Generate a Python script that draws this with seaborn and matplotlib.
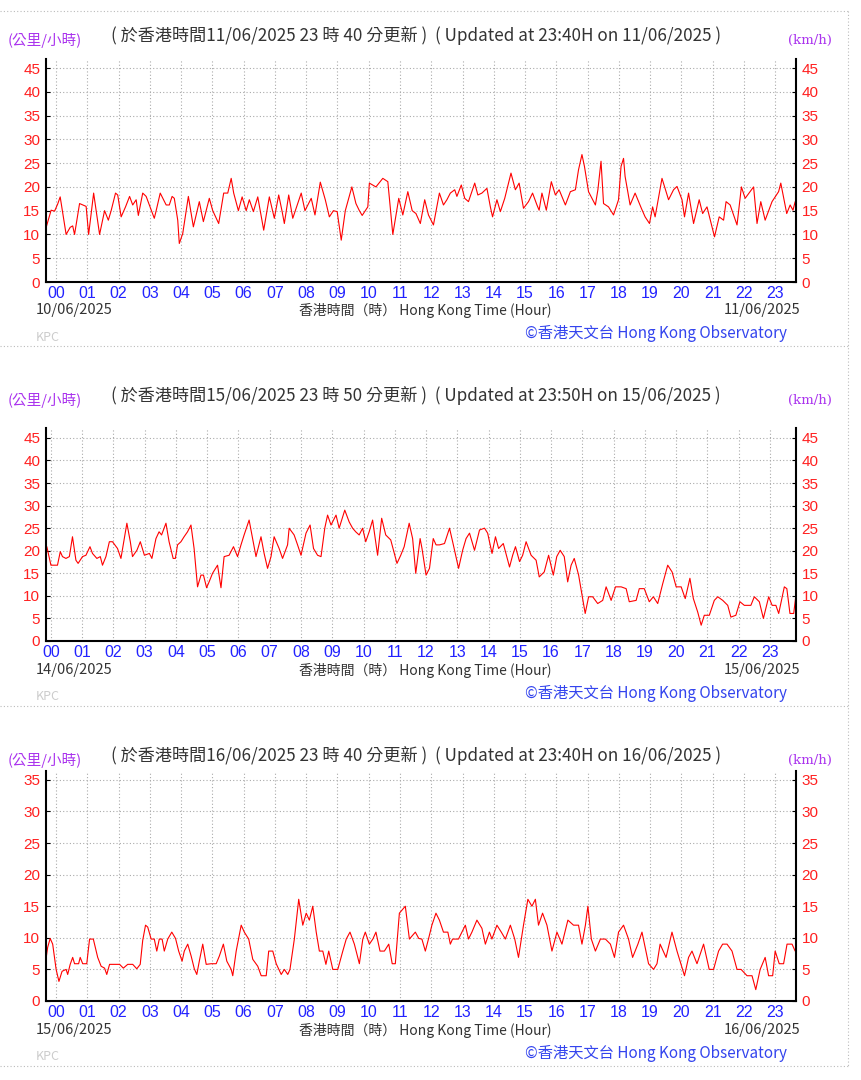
import matplotlib
matplotlib.use("Agg")
import matplotlib.pyplot as plt
from matplotlib.lines import Line2D
from matplotlib.ticker import MultipleLocator
import seaborn as sns

# ---- data (hour of day, wind speed km/h) ----
p1_hours = [-0.34, -0.16, -0.05, 0.05, 0.13, 0.32, 0.45, 0.53, 0.59, 0.75, 0.96, 1.04, 1.2, 1.39,
            1.55, 1.67, 1.76, 1.9, 1.97, 2.08, 2.22, 2.35, 2.45, 2.56, 2.63, 2.77, 2.88, 3.14, 3.2,
            3.33, 3.52, 3.62, 3.71, 3.78, 3.89, 3.94, 4.05, 4.23, 4.39, 4.58, 4.71, 4.9, 5.01, 5.2,
            5.36, 5.49, 5.6, 5.68, 5.83, 5.95, 6.08, 6.18, 6.31, 6.45, 6.64, 6.82, 6.98, 7.12, 7.23,
            7.3, 7.44, 7.57, 7.84, 7.96, 8.16, 8.28, 8.45, 8.61, 8.74, 8.87, 8.99, 9.12, 9.25, 9.46,
            9.59, 9.7, 9.79, 9.97, 10.02, 10.23, 10.45, 10.61, 10.77, 10.96, 11.09, 11.25, 11.39,
            11.51, 11.65, 11.79, 11.91, 12.07, 12.26, 12.39, 12.5, 12.61, 12.75, 12.82, 12.96, 13.07,
            13.19, 13.39, 13.49, 13.62, 13.78, 13.89, 13.96, 14.1, 14.21, 14.35, 14.55, 14.69, 14.81,
            14.95, 15.11, 15.24, 15.38, 15.45, 15.54, 15.68, 15.84, 15.97, 16.09, 16.29, 16.45, 16.61,
            16.71, 16.82, 16.9, 17.03, 17.25, 17.33, 17.43, 17.51, 17.67, 17.83, 17.99, 18.07, 18.15,
            18.2, 18.36, 18.52, 18.72, 18.84, 18.98, 19.08, 19.16, 19.38, 19.59, 19.75, 19.86, 20.02,
            20.1, 20.23, 20.39, 20.57, 20.68, 20.82, 21.06, 21.21, 21.35, 21.43, 21.56, 21.78, 21.92,
            22.04, 22.31, 22.42, 22.54, 22.68, 22.9, 23.11, 23.18, 23.37, 23.48, 23.57, 23.64]
p1_speed = [11, 15.1, 14.9, 16.4, 17.9, 10, 11.5, 11.8, 10, 16.5, 15.9, 10, 18.7, 10,
            15, 13, 15, 18.7, 18.3, 13.7, 15.8, 18, 16.2, 17.3, 14, 18.7, 18, 13.4, 15,
            18.7, 16.2, 16.2, 18, 17.6, 13, 8.1, 10.2, 18, 11.6, 16.9, 12.7, 17.6, 15, 12.3,
            18.7, 18.7, 21.8, 18.7, 15, 17.9, 15, 17.3, 14.8, 17.9, 10.9, 17.9, 13.4, 18.3, 14.8,
            12.3, 18.3, 13.4, 18.7, 15, 17.6, 14.1, 21, 17.3, 13.7, 15, 14.8, 8.8, 15, 20,
            16.5, 15, 14, 15.8, 20.8, 20, 21.8, 21.1, 10, 17.6, 14.1, 19, 15,
            14.4, 12.3, 17.3, 14.1, 12.0, 18.7, 16.2, 17.3, 18.7, 19.4, 18, 20.4, 17.6,
            16.9, 20.8, 18.3, 18.7, 19.7, 15.8, 13.7, 17.3, 14.8, 17.6, 22.9, 19.4, 20.8,
            15.5, 16.9, 18.7, 16.2, 15.1, 18.7, 15.1, 21.1, 18.3, 19.4, 16.2, 19, 19.4,
            23.6, 26.8, 24.3, 19, 16.2, 19.4, 25.4, 16.5, 15.8, 14.1, 17.3, 24.3, 26,
            22.2, 16.2, 18.7, 15.5, 13.7, 12.3, 15.8, 13.7, 21.8, 17.3, 19.4, 20.1, 17.3,
            13.7, 18.7, 12.3, 17.3, 14.4, 15.8, 9.5, 13.7, 13, 16.9, 16.2, 12, 20,
            17.6, 20, 12.3, 16.9, 13, 16.9, 19, 20.8, 14.4, 16.2, 15.1, 16.9]

p2_hours = [-0.13, 0, 0.11, 0.21, 0.3, 0.37, 0.48, 0.59, 0.69, 0.8, 0.87, 1.01, 1.12, 1.25, 1.33,
            1.47, 1.58, 1.65, 1.76, 1.87, 1.97, 2.13, 2.24, 2.43, 2.54, 2.61, 2.75, 2.86, 2.99, 3.15,
            3.23, 3.36, 3.46, 3.54, 3.68, 3.78, 3.91, 3.98, 4.05, 4.16, 4.26, 4.37, 4.48, 4.58, 4.69,
            4.8, 4.88, 4.98, 5.06, 5.17, 5.33, 5.44, 5.54, 5.7, 5.84, 5.97, 6.08, 6.18, 6.34, 6.45,
            6.56, 6.72, 6.82, 6.93, 7.04, 7.14, 7.3, 7.41, 7.57, 7.62, 7.78, 7.89, 8.0, 8.16, 8.29,
            8.4, 8.53, 8.64, 8.76, 8.85, 8.96, 9.12, 9.22, 9.4, 9.54, 9.65, 9.75, 9.86, 9.97, 10.07,
            10.18, 10.29, 10.45, 10.58, 10.71, 10.87, 11.07, 11.19, 11.3, 11.46, 11.57, 11.67, 11.81,
            11.87, 12.0, 12.11, 12.23, 12.32, 12.43, 12.59, 12.75, 12.85, 13.04, 13.17, 13.28, 13.39,
            13.55, 13.71, 13.87, 13.97, 14.11, 14.22, 14.32, 14.47, 14.58, 14.67, 14.77, 14.86, 14.99,
            15.09, 15.2, 15.36, 15.52, 15.62, 15.78, 15.92, 16.07, 16.18, 16.29, 16.42, 16.53, 16.64,
            16.74, 16.88, 16.99, 17.09, 17.2, 17.33, 17.49, 17.65, 17.76, 17.92, 18.06, 18.24, 18.4,
            18.5, 18.72, 18.82, 18.98, 19.14, 19.27, 19.41, 19.57, 19.73, 19.87, 20.0, 20.16, 20.29,
            20.44, 20.55, 20.69, 20.8, 20.9, 21.06, 21.22, 21.33, 21.49, 21.65, 21.75, 21.91, 22.04,
            22.18, 22.39, 22.5, 22.66, 22.79, 22.96, 23.07, 23.19, 23.28, 23.46, 23.54, 23.64, 23.76,
            23.83]
p2_speed = [20.9, 16.8, 16.8, 16.8, 19.8, 18.7, 18.3, 18.7, 23.1, 17.9, 17.2, 18.7, 19, 20.9, 19.4,
            18.3, 18.7, 16.8, 18.7, 22, 22, 20.5, 18.3, 26.1, 22, 18.7, 20.1, 22, 19, 19.4,
            18.3, 22.7, 24.2, 23.5, 26.1, 22, 18.3, 18.3, 21.3, 22, 23.1, 24.2, 25.7, 20.5, 12,
            14.6, 14.6, 11.8, 13.1, 15, 16.8, 11.8, 18.7, 19, 20.9, 18.7, 21.3, 23.5, 26.8, 22.7,
            18.7, 23.1, 19.4, 16.1, 18.7, 23.1, 20.5, 18.3, 21.3, 25, 23.5, 21.3, 19, 23.9, 25.7,
            20.5, 19, 18.7, 25, 27.9, 25.7, 27.9, 25, 29, 26.4, 25, 24.2, 23.5, 25, 22,
            24.2, 26.8, 19, 27.2, 23.5, 22.4, 17.2, 19, 20.9, 26.1, 22.7, 15, 22.7,
            20.5, 14.6, 16.1, 22.7, 21.3, 21.3, 21.6, 25, 22, 16.1, 20.1, 22.7, 23.9,
            20.1, 24.6, 25, 23.9, 19.4, 23.1, 20.5, 21.6, 18.7, 16.4, 19, 20.9, 17.6,
            19, 22, 19, 17.9, 14.2, 15.3, 19, 14.6, 18.7, 20.1, 18.7, 13.1, 16.8,
            18.3, 14.6, 10.1, 6.1, 9.8, 9.8, 8.3, 9, 12, 9, 12, 12, 11.6,
            8.7, 9, 11.6, 11.6, 8.7, 9.8, 8.3, 12.7, 16.8, 15.3, 12, 12, 9.4,
            13.9, 9.4, 6.4, 3.5, 5.7, 5.7, 9, 9.8, 9, 7.9, 5.3, 5.7, 8.7,
            7.9, 7.9, 9.8, 8.7, 5, 9.8, 7.9, 7.9, 6.1, 12, 11.6, 6.1, 6.1,
            10.1]

p3_hours = [-0.34, -0.27, -0.19, -0.11, 0.0, 0.09, 0.19, 0.32, 0.37, 0.45, 0.53, 0.59, 0.72, 0.77,
            0.85, 0.98, 1.07, 1.19, 1.33, 1.44, 1.55, 1.62, 1.71, 1.87, 2.03, 2.15, 2.29, 2.45, 2.58,
            2.69, 2.77, 2.86, 2.93, 3.04, 3.14, 3.22, 3.3, 3.39, 3.46, 3.57, 3.7, 3.82, 3.92, 4.03,
            4.1, 4.21, 4.32, 4.42, 4.5, 4.58, 4.69, 4.8, 4.96, 5.12, 5.22, 5.35, 5.46, 5.6, 5.65,
            5.76, 5.92, 6.02, 6.16, 6.29, 6.45, 6.56, 6.72, 6.8, 6.93, 7.04, 7.2, 7.3, 7.41, 7.48,
            7.62, 7.76, 7.89, 8.0, 8.1, 8.21, 8.32, 8.42, 8.53, 8.63, 8.72, 8.85, 9.01, 9.17, 9.28,
            9.4, 9.54, 9.7, 9.81, 9.89, 10.02, 10.13, 10.23, 10.36, 10.5, 10.64, 10.75, 10.85, 10.98,
            11.17, 11.3, 11.49, 11.6, 11.7, 11.81, 11.91, 12.02, 12.15, 12.26, 12.39, 12.53, 12.61,
            12.68, 12.87, 12.98, 13.09, 13.19, 13.3, 13.46, 13.62, 13.73, 13.86, 13.94, 14.1, 14.24,
            14.37, 14.53, 14.67, 14.79, 14.95, 15.09, 15.22, 15.33, 15.43, 15.56, 15.7, 15.86, 16.02,
            16.18, 16.37, 16.55, 16.71, 16.82, 16.93, 17.01, 17.12, 17.25, 17.41, 17.57, 17.73, 17.86,
            17.99, 18.15, 18.31, 18.44, 18.61, 18.74, 18.95, 19.11, 19.22, 19.32, 19.51, 19.7, 19.86,
            20.1, 20.23, 20.34, 20.5, 20.71, 20.89, 21.03, 21.19, 21.32, 21.46, 21.62, 21.78, 21.91,
            22.1, 22.26, 22.38, 22.52, 22.68, 22.79, 22.92, 23.0, 23.13, 23.27, 23.38, 23.54, 23.64]
p3_speed = [6.1, 8.5, 9.9, 9, 5, 3.1, 4.7, 5, 4.2, 5.8, 6.9, 5.9, 5.9, 6.9,
            5.9, 5.9, 9.8, 9.8, 6.9, 5.5, 5.2, 4.2, 5.8, 5.8, 5.8, 5.2, 5.8, 5.8, 5.1,
            5.8, 9.6, 12, 11.7, 9.8, 9.8, 7.9, 9.8, 9.8, 7.9, 9.8, 10.9, 9.9, 7.9, 6.3,
            7.9, 9, 7.1, 5.1, 4.2, 6.3, 9, 5.8, 5.9, 5.9, 7.1, 9, 6.3, 5, 4,
            7.9, 12, 10.9, 9.8, 6.6, 5.5, 4, 4, 7.9, 7.9, 5.9, 4.2, 5, 4.2, 5,
            9.8, 16.1, 12, 13.9, 12.8, 15, 10.9, 7.9, 7.9, 5.8, 7.9, 5, 5, 7.9, 9.8,
            10.9, 9, 5.9, 9.8, 10.9, 9, 9.8, 10.9, 7.9, 7.9, 9, 5.9, 5.9, 13.9,
            15, 9.8, 10.9, 9.9, 9.8, 7.9, 9.8, 12, 13.9, 12.8, 10.9, 10.9, 9,
            9.8, 9.8, 10.9, 12, 9.8, 10.9, 12.8, 11.5, 9, 10.9, 9.8, 12, 10.9,
            9.8, 12, 9.8, 6.9, 12, 16.1, 15, 16.1, 12, 13.9, 12, 7.9, 10.9,
            9, 12.8, 12, 12, 9, 12, 15, 9.8, 7.9, 9.8, 9.8, 9, 6.9,
            10.9, 12, 9.8, 6.9, 9, 10.9, 5.9, 5, 5.9, 9, 6.9, 10.9, 7.9,
            4, 6.9, 7.9, 5.9, 9, 5, 5, 7.9, 9, 9, 7.9, 5, 5,
            4, 4, 1.8, 5, 6.9, 4, 4, 7.9, 5.9, 5.9, 9, 9, 7.9]

hour_labels = ["%02d" % h for h in range(24)]
cn_titles = ["( 於香港時間11/06/2025 23 時 40 分更新 )",
             "( 於香港時間15/06/2025 23 時 50 分更新 )",
             "( 於香港時間16/06/2025 23 時 40 分更新 )"]
en_titles = ["( Updated at 23:40H on 11/06/2025 )",
             "( Updated at 23:50H on 15/06/2025 )",
             "( Updated at 23:40H on 16/06/2025 )"]
start_dates = ["10/06/2025", "14/06/2025", "15/06/2025"]
end_dates = ["11/06/2025", "15/06/2025", "16/06/2025"]
y_max_ticks = [45, 45, 35]

W, H = 862, 1080
CJK = ["Noto Sans CJK TC", "DejaVu Sans"]
NARROW = ["Liberation Sans Narrow", "Liberation Sans", "DejaVu Sans"]

sns.set_style("white")
plt.rcParams["font.family"] = CJK

fig = plt.figure(figsize=(W / 100, H / 100), dpi=100)
fig.patch.set_facecolor("white")


def fx(px):
    return px / W


def fy(py):
    return 1 - py / H


# panel layout in pixels: (axes top, axes bottom, y-axis top value, x range)
layout = [
    (59, 282, 46.9, (-1 / 3, 23 + 2 / 3)),
    (428, 641, 47.2, (-1 / 6, 23 + 5 / 6)),
    (771, 1001, 36.4, (-1 / 3, 23 + 2 / 3)),
]
series = [(p1_hours, p1_speed), (p2_hours, p2_speed), (p3_hours, p3_speed)]

for i, ((top, bot, ytop, xr), (hrs, spd)) in enumerate(zip(layout, series)):
    off = 360 * i
    ax = fig.add_axes([fx(45.7), fy(bot), fx(796) - fx(45.7), fy(top) - fy(bot)])
    sns.lineplot(x=hrs, y=spd, ax=ax, color="#ff0000", linewidth=0.8)
    ax.set_xlim(*xr)
    ax.set_ylim(0, ytop)
    ax.set_xticks(range(24))
    ax.set_xticklabels(hour_labels)
    ax.set_yticks(range(0, y_max_ticks[i] + 1, 5))
    ax.xaxis.set_minor_locator(MultipleLocator(1 / 3))
    ax.grid(True, which="major", color="#aaaaaa", linestyle=(0, (1, 2)), linewidth=0.8)
    ax.set_axisbelow(True)
    for side in ["left", "right", "bottom"]:
        ax.spines[side].set_color("black")
        ax.spines[side].set_linewidth(1.5)
    ax.spines["top"].set_visible(False)
    ax.tick_params(axis="y", which="both", direction="in", length=3, color="black",
                   left=True, right=True, labelleft=True, labelright=True,
                   labelcolor="#ff2020", labelsize=11, pad=4)
    ax.tick_params(axis="x", which="major", direction="in", length=3, color="black",
                   labelcolor="#2222ff", labelsize=11.5, pad=3)
    ax.tick_params(axis="x", which="minor", direction="in", length=2, color="black")
    for lab in ax.get_xticklabels() + ax.get_yticklabels():
        lab.set_family(NARROW)
    for t in ax.yaxis.get_major_ticks():
        t.label2.set_family(NARROW)
    ax.set_xlabel("")
    ax.set_ylabel("")

    # header texts
    fig.text(fx(8), fy(40 + off), "(公里/小時)", color="#aa33ee", fontsize=10.5,
             ha="left", va="center")
    fig.text(fx(416), fy(36 + off), cn_titles[i] + "  " + en_titles[i], color="#333333",
             fontsize=12.3, ha="center", va="center")
    fig.text(fx(832), fy(40 + off), "(km/h)", color="#aa33ee", fontsize=9.5,
             family=["DejaVu Serif"], ha="right", va="center")

    # footer texts
    fig.text(fx(36), fy(310 + off), start_dates[i], color="#333333", fontsize=10.5,
             ha="left", va="center")
    fig.text(fx(425), fy(310 + off), "香港時間（時） Hong Kong Time (Hour)", color="#333333",
             fontsize=10, ha="center", va="center")
    fig.text(fx(800), fy(310 + off), end_dates[i], color="#333333", fontsize=10.5,
             ha="right", va="center")
    fig.text(fx(787), fy(333 + off), "©香港天文台 Hong Kong Observatory", color="#3344ee",
             fontsize=11, ha="right", va="center")
    fig.text(fx(36), fy(337 + off), "KPC", color="#cccccc", fontsize=9,
             ha="left", va="center")

# dotted frame lines between panels
for yline in [11, 346, 706, 1066]:
    fig.add_artist(Line2D([0, fx(848)], [fy(yline), fy(yline)], color="#bbbbbb",
                          linestyle=(0, (1, 2)), linewidth=0.8))
fig.add_artist(Line2D([fx(848), fx(848)], [fy(11), fy(1066)], color="#bbbbbb",
                      linestyle=(0, (1, 2)), linewidth=0.8))

fig.savefig("out.png", dpi=100, facecolor="white")
